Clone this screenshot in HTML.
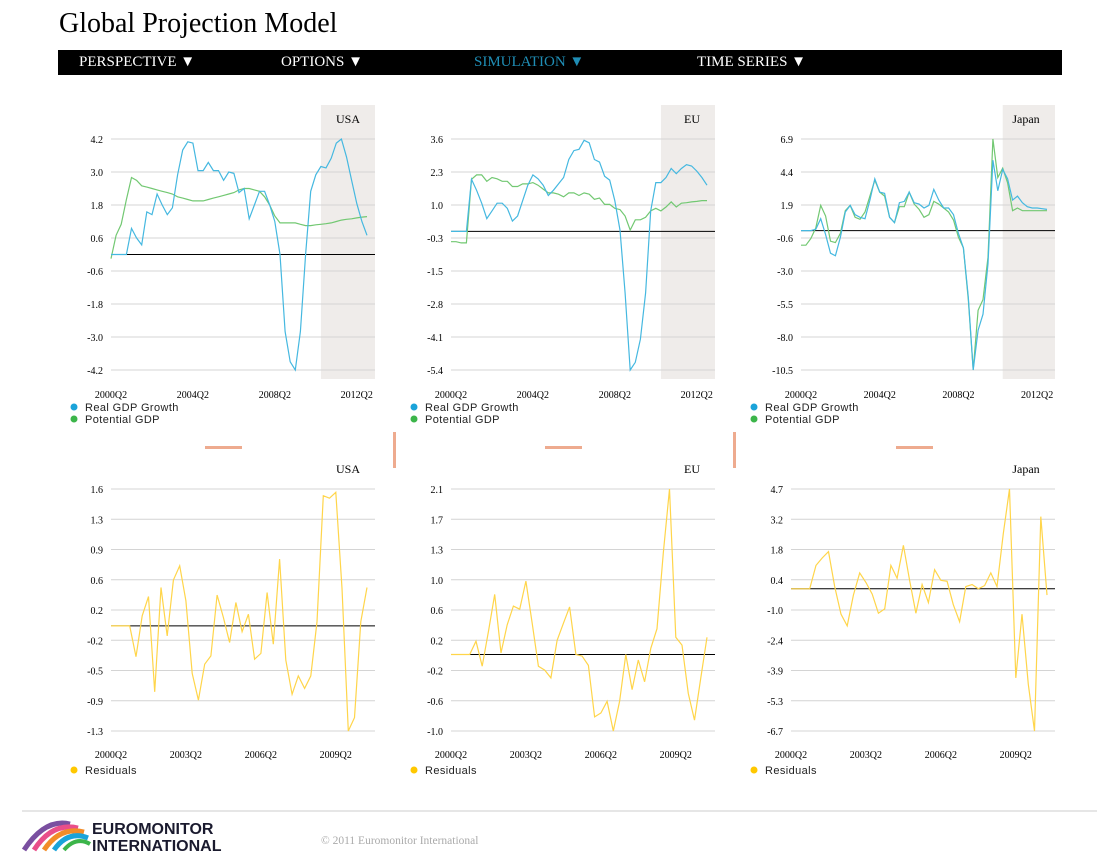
<!DOCTYPE html>
<html><head><meta charset="utf-8">
<style>
body{margin:0;background:#fff;width:1102px;height:858px;overflow:hidden;font-family:"Liberation Serif",serif;}
svg{position:absolute;left:0;top:0}
</style></head>
<body>
<svg id="s" width="1102" height="858" xmlns="http://www.w3.org/2000/svg">
<text x="59" y="32" font-family="Liberation Serif, serif" font-size="28" fill="#000">Global Projection Model</text>
<rect x="58" y="50" width="1004" height="25" fill="#000"/>
<g font-family="Liberation Serif, serif" font-size="15">
<text x="79" y="66" fill="#fff">PERSPECTIVE ▼</text>
<text x="281" y="66" fill="#fff">OPTIONS ▼</text>
<text x="474" y="66" fill="#1f8db5">SIMULATION ▼</text>
<text x="697" y="66" fill="#fff">TIME SERIES ▼</text>
</g>
<rect x="205" y="446" width="37" height="3" fill="#eeab8f"/>
<rect x="545" y="446" width="37" height="3" fill="#eeab8f"/>
<rect x="896" y="446" width="37" height="3" fill="#eeab8f"/>
<rect x="393" y="432" width="3" height="36" fill="#eeab8f"/>
<rect x="733" y="432" width="3" height="36" fill="#eeab8f"/>
<line x1="22" y1="811" x2="1097" y2="811" stroke="#ccc"/>
<g>
<path d="M24 850 Q45 818 70 824" stroke="#7a4fa0" stroke-width="5" fill="none"/>
<path d="M34 850 Q52 822 78 828" stroke="#e94e8a" stroke-width="5" fill="none"/>
<path d="M44 850 Q60 826 84 832" stroke="#f28c28" stroke-width="5" fill="none"/>
<path d="M54 850 Q68 830 88 838" stroke="#1aa3d9" stroke-width="5" fill="none"/>
<path d="M64 850 Q76 836 90 844" stroke="#3cb54a" stroke-width="4" fill="none"/>
<text x="92" y="834" font-family="Liberation Sans, sans-serif" font-size="16" font-weight="bold" fill="#1a1a2e">EUROMONITOR</text>
<text x="92" y="851" font-family="Liberation Sans, sans-serif" font-size="16" font-weight="bold" fill="#1a1a2e">INTERNATIONAL</text>
</g>
<text x="321" y="844" font-size="11.5" fill="#aaa">© 2011 Euromonitor International</text>
</svg>
<script>
const topLabels=["2000Q2","2004Q2","2008Q2","2012Q2"];
const topLabelIdx=[0,16,32,48];
const resLabels=["2000Q2","2003Q2","2006Q2","2009Q2"];
const resLabelIdx=[0,12,24,36];
const usaReal=[0,0,0,0,0.95,0.6,0.35,1.55,1.45,2.2,1.8,1.45,1.7,2.9,3.8,4.1,4.05,3.05,3.05,3.35,3.05,3.05,2.7,3.0,2.95,2.25,2.4,1.3,1.8,2.3,2.3,1.8,1.2,0,-2.8,-3.9,-4.2,-2.8,0,2.3,2.9,3.2,3.15,3.5,4.05,4.2,3.55,2.7,1.85,1.2,0.7];
const usaPot=[-0.15,0.7,1.1,2.0,2.8,2.7,2.5,2.45,2.4,2.35,2.3,2.25,2.2,2.1,2.05,2.0,1.95,1.95,1.95,2.0,2.05,2.1,2.15,2.2,2.25,2.35,2.4,2.4,2.35,2.3,2.1,1.8,1.4,1.15,1.15,1.15,1.15,1.1,1.05,1.05,1.08,1.1,1.12,1.15,1.2,1.25,1.28,1.3,1.33,1.36,1.38];
const euReal=[0,0,0,0,2.03,1.6,1.1,0.5,0.8,1.1,1.1,0.9,0.4,0.6,1.2,1.8,2.2,2.05,1.8,1.4,1.6,1.85,2.1,2.8,3.15,3.2,3.55,3.45,2.8,2.7,2.15,2.0,1.2,0.05,-2.4,-5.4,-5.1,-4.2,-2.4,0.8,1.9,1.9,2.1,2.45,2.25,2.45,2.6,2.55,2.35,2.1,1.8];
const euPot=[-0.4,-0.4,-0.45,-0.45,2.03,2.2,2.2,1.95,2.1,2.05,1.95,1.95,1.75,1.75,1.85,1.85,1.9,1.8,1.65,1.5,1.5,1.45,1.35,1.5,1.5,1.4,1.5,1.45,1.25,1.3,1.05,1.05,0.9,0.85,0.6,0.05,0.45,0.45,0.55,0.8,0.9,0.8,0.95,1.15,0.95,1.1,1.12,1.15,1.17,1.2,1.2];
const jpReal=[0,0,0,0.1,0.9,-0.3,-1.7,-1.9,-0.5,1.4,1.9,1.2,1.0,0.9,2.3,3.9,2.9,2.8,1.0,0.6,2.1,2.2,2.9,2.1,2.0,1.7,1.9,3.1,2.3,1.7,1.7,1.2,-0.2,-1.3,-5.0,-10.5,-7.5,-6.3,-2.5,5.3,3.0,4.6,3.9,2.3,2.6,2.1,1.8,1.7,1.7,1.65,1.6];
const jpPot=[-1.1,-1.1,-0.6,0.2,1.9,1.1,-0.8,-0.9,-0.2,1.5,1.9,1.0,0.85,1.4,2.6,3.8,2.9,2.6,1.0,0.6,1.8,1.8,2.9,2.0,1.6,1.0,1.2,2.2,2.0,1.7,1.4,0.8,-0.5,-1.3,-5.2,-10.5,-6.0,-5.2,-2.0,6.9,4.0,4.7,3.6,1.5,1.7,1.5,1.5,1.5,1.5,1.5,1.5];
const usaRes=[0,0,0,0,-0.37,0.12,0.35,-0.79,0.46,-0.12,0.55,0.72,0.3,-0.57,-0.89,-0.46,-0.36,0.37,0.1,-0.2,0.28,-0.07,0.14,-0.4,-0.33,0.4,-0.22,0.8,-0.41,-0.82,-0.6,-0.75,-0.6,0.05,1.56,1.53,1.6,0.45,-1.26,-1.1,0.05,0.46];
const euRes=[0,0,0,0,0.17,-0.15,0.3,0.77,0.02,0.38,0.62,0.58,0.94,0.4,-0.15,-0.2,-0.3,0.18,0.4,0.61,0.0,-0.02,-0.14,-0.8,-0.75,-0.6,-0.98,-0.6,0.0,-0.45,-0.07,-0.35,0.08,0.33,1.3,2.12,0.22,0.12,-0.5,-0.84,-0.3,0.22];
const jpRes=[0,0,0,0,1.1,1.45,1.75,0.1,-1.2,-1.75,-0.3,0.75,0.3,-0.25,-1.15,-0.95,1.1,0.5,2.05,0.4,-1.15,0.2,-0.65,0.9,0.4,0.35,-0.75,-1.55,0.1,0.2,0.0,0.15,0.75,0.1,2.6,4.7,-4.2,-1.2,-4.5,-6.7,3.4,-0.3];
const usaTicks=["4.2","3.0","1.8","0.6","-0.6","-1.8","-3.0","-4.2"];
const euTicks=["3.6","2.3","1.0","-0.3","-1.5","-2.8","-4.1","-5.4"];
const jpTicks=["6.9","4.4","1.9","-0.6","-3.0","-5.5","-8.0","-10.5"];
const usaResTicks=["1.6","1.3","0.9","0.6","0.2","-0.2","-0.5","-0.9","-1.3"];
const euResTicks=["2.1","1.7","1.3","1.0","0.6","0.2","-0.2","-0.6","-1.0"];
const jpResTicks=["4.7","3.2","1.8","0.4","-1.0","-2.4","-3.9","-5.3","-6.7"];

const NS="http://www.w3.org/2000/svg";
const S=document.getElementById('s');
function mk(tag,at,parent){const e=document.createElementNS(NS,tag);for(const k in at)e.setAttribute(k,at[k]);(parent||S).appendChild(e);return e;}

function chart(o){
  const g=mk('g',{});
  
  
  const n=o.series[0].vals.length;
  const xs=i=>o.x0+(o.x1-o.x0)*i/(n-1);
  const ys=v=>o.yTop+(o.max-v)/(o.max-o.min)*(o.yBot-o.yTop);
  if(o.shadeFrom!=null){
    const r=mk('rect',{x:xs(o.shadeFrom),y:o.shadeY,width:o.gridR-xs(o.shadeFrom),height:o.yBot+9-o.shadeY,fill:'#efecea'},g);
    
    
  }
  const nt=o.ticks.length;
  o.ticks.forEach((t,k)=>{
    const y=o.yTop+(o.yBot-o.yTop)*k/(nt-1);
    mk('line',{x1:o.x0,x2:o.gridR,y1:y,y2:y,stroke:'#d4d4d4','stroke-width':1},g);
    const tx=mk('text',{x:o.x0-8,y:y+4,'text-anchor':'end','font-size':10,fill:'#000'},g);
    tx.textContent=t;
    
    
  });
  const z=mk('line',{x1:o.x0,x2:o.gridR,y1:ys(0),y2:ys(0),stroke:'#000','stroke-width':1},g);
  
  
  o.series.forEach(s=>{
    const p=mk('polyline',{points:s.vals.map((v,i)=>xs(i).toFixed(1)+','+ys(v).toFixed(1)).join(' '),fill:'none',stroke:s.color,'stroke-width':1.2},g);
    
    
  });
  o.xl.forEach((l,k)=>{
    const t=mk('text',{x:xs(o.xi[k]),y:o.xlY,'text-anchor':'middle','font-size':10,fill:'#000'},g);
    t.textContent=l;
    
    
  });
  const ti=mk('text',{x:o.titleX,y:o.titleY,'text-anchor':'middle','font-size':12,fill:'#000'},g);
  ti.textContent=o.title;
  
  
  o.legend.forEach((l,k)=>{
    const y=o.legY+k*12;
    const c=mk('circle',{cx:o.legX,cy:y,r:3.5,fill:l.c},g);
    
    
    const t=mk('text',{x:o.legX+11,y:y+4,'font-size':11,'letter-spacing':'0.4','font-family':'Liberation Sans, sans-serif',fill:'#222'},g);
    t.textContent=l.t;
    
    
  });
}
const BLUE='#45b8e0',GREEN='#72c872',YEL='#ffd54a';
const legTop=[{t:'Real GDP Growth',c:'#1aa3d9'},{t:'Potential GDP',c:'#3cb54a'}];
const legRes=[{t:'Residuals',c:'#ffc800'}];
const tops=[
 {name:'usa-gdp-chart',x0:111,x1:367,gridR:375,ticks:usaTicks,max:4.2,min:-4.2,r:usaReal,p:usaPot,title:'USA',tx:348},
 {name:'eu-gdp-chart',x0:451,x1:707,gridR:715,ticks:euTicks,max:3.6,min:-5.4,r:euReal,p:euPot,title:'EU',tx:692},
 {name:'japan-gdp-chart',x0:801,x1:1047,gridR:1055,ticks:jpTicks,max:6.9,min:-10.5,r:jpReal,p:jpPot,title:'Japan',tx:1026}
];
tops.forEach((c,k)=>chart({name:c.name,x0:c.x0,x1:c.x1,gridR:c.gridR,yTop:139,yBot:370,ticks:c.ticks,max:c.max,min:c.min,
 series:[{id:'potential-gdp-line',vals:c.p,color:GREEN},{id:'real-gdp-line',vals:c.r,color:BLUE}],
 shadeFrom:41,shadeY:105,xl:topLabels,xi:topLabelIdx,xlY:398,title:c.title,titleX:c.tx,titleY:123,legend:legTop,legX:74+340*k,legY:407}));
const ress=[
 {name:'usa-residuals-chart',x0:111,x1:367,gridR:375,ticks:usaResTicks,max:1.64,min:-1.26,v:usaRes,title:'USA',tx:348},
 {name:'eu-residuals-chart',x0:451,x1:707,gridR:715,ticks:euResTicks,max:2.12,min:-0.98,v:euRes,title:'EU',tx:692},
 {name:'japan-residuals-chart',x0:791,x1:1047,gridR:1055,ticks:jpResTicks,max:4.7,min:-6.7,v:jpRes,title:'Japan',tx:1026}
];
ress.forEach((c,k)=>chart({name:c.name,x0:c.x0,x1:c.x1,gridR:c.gridR,yTop:489,yBot:731,ticks:c.ticks,max:c.max,min:c.min,
 series:[{id:'residuals-line',vals:c.v,color:YEL}],shadeFrom:null,xl:resLabels,xi:resLabelIdx,xlY:758,title:c.title,titleX:c.tx,titleY:473,legend:legRes,legX:74+340*k,legY:770}));
</script>
</body></html>
